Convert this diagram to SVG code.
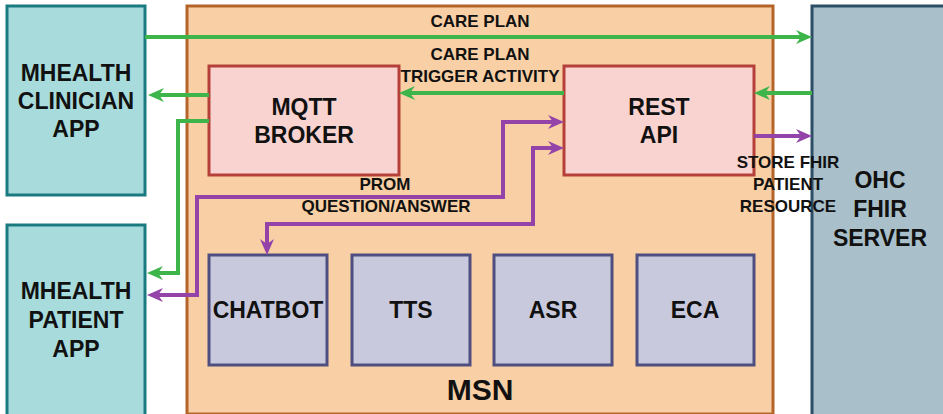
<svg xmlns="http://www.w3.org/2000/svg" width="943" height="414" viewBox="0 0 943 414">
<style>
text{font-family:"Liberation Sans",Arial,sans-serif;font-weight:bold;fill:#111;text-anchor:middle}
.big{font-size:23px}
.lbl{font-size:17px}
.app{fill:#a8dcdc;stroke:#1a7a80;stroke-width:3}
.msn{fill:#f9d0a5;stroke:#b5652a;stroke-width:3}
.red{fill:#f8d3d0;stroke:#b5403a;stroke-width:3}
.mod{fill:#c9c9dd;stroke:#4e4e80;stroke-width:3}
.srv{fill:#a9bfca;stroke:#2d4f66;stroke-width:3}
.g{fill:none;stroke:#3db54a;stroke-width:4}
.p{fill:none;stroke:#9444a8;stroke-width:4}
</style>
<defs>
<marker id="ag" viewBox="0 0 16 14" markerWidth="16" markerHeight="14" refX="10" refY="7" orient="auto-start-reverse" markerUnits="userSpaceOnUse"><path d="M0,0 L16,7 L0,14 L5,7 z" fill="#3db54a"/></marker>
<marker id="ap" viewBox="0 0 16 14" markerWidth="16" markerHeight="14" refX="10" refY="7" orient="auto-start-reverse" markerUnits="userSpaceOnUse"><path d="M0,0 L16,7 L0,14 L5,7 z" fill="#9444a8"/></marker>
</defs>
<rect width="943" height="414" fill="#fff"/>
<g id="msn"><rect class="msn" x="187" y="6" width="586" height="408"/><text x="480" y="400" style="font-size:30px">MSN</text></g>
<g id="clinician"><rect class="app" x="7" y="6" width="138" height="189"/><text class="big" x="76" y="81">MHEALTH</text><text class="big" x="76" y="109">CLINICIAN</text><text class="big" x="76" y="137">APP</text></g>
<g id="patient"><rect class="app" x="7" y="225" width="138" height="195"/><text class="big" x="76" y="299">MHEALTH</text><text class="big" x="76" y="328">PATIENT</text><text class="big" x="76" y="357">APP</text></g>
<g id="ohc"><rect class="srv" x="812" y="6" width="140" height="414"/><text class="big" x="880" y="188">OHC</text><text class="big" x="880" y="217">FHIR</text><text class="big" x="880" y="246">SERVER</text></g>
<g id="mqtt"><rect class="red" x="209" y="66" width="190" height="109"/><text class="big" x="304" y="115">MQTT</text><text class="big" x="304" y="143">BROKER</text></g>
<g id="rest"><rect class="red" x="564" y="66" width="190" height="109"/><text class="big" x="659" y="115">REST</text><text class="big" x="659" y="143">API</text></g>
<g id="chatbot"><rect class="mod" x="209" y="255" width="118" height="110"/><text class="big" x="268" y="318">CHATBOT</text></g>
<g id="tts"><rect class="mod" x="352" y="255" width="118" height="110"/><text class="big" x="411" y="318">TTS</text></g>
<g id="asr"><rect class="mod" x="494" y="255" width="118" height="110"/><text class="big" x="553" y="318">ASR</text></g>
<g id="eca"><rect class="mod" x="637" y="255" width="117" height="110"/><text class="big" x="695" y="318">ECA</text></g>
<g id="connectors">
<path class="g" d="M145,37 H806" marker-end="url(#ag)"/>
<path class="g" d="M812,93 H760" marker-end="url(#ag)"/>
<path class="g" d="M564,93 H405" marker-end="url(#ag)"/>
<path class="g" d="M209,95 H154" marker-end="url(#ag)"/>
<path class="g" d="M209,121 H178 V273 H153" marker-end="url(#ag)"/>
<path class="p" d="M153,295 H197 V197 H503 V122 H558" marker-start="url(#ap)" marker-end="url(#ap)"/>
<path class="p" d="M267,249 V224 H533 V148 H558" marker-start="url(#ap)" marker-end="url(#ap)"/>
<path class="p" d="M754,136 H806" marker-end="url(#ap)"/>
<text class="lbl" x="480" y="27">CARE PLAN</text>
<text class="lbl" x="480" y="60">CARE PLAN</text>
<text class="lbl" x="480" y="82">TRIGGER ACTIVITY</text>
<text class="lbl" x="385" y="190">PROM</text>
<text class="lbl" x="386" y="212">QUESTION/ANSWER</text>
<text class="lbl" x="788" y="168">STORE FHIR</text>
<text class="lbl" x="788" y="190">PATIENT</text>
<text class="lbl" x="788" y="212">RESOURCE</text>
</g>
</svg>
